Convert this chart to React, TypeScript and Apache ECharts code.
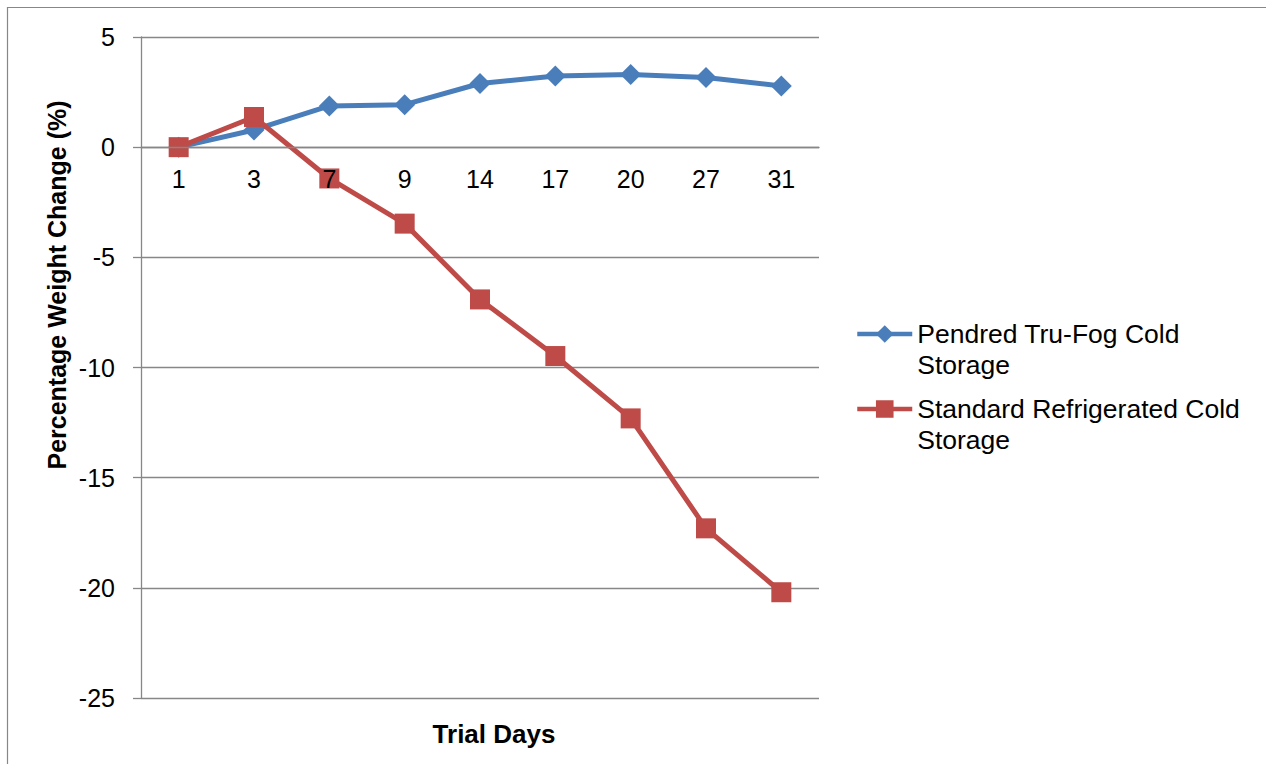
import React, { useEffect, useRef } from "react";
import * as echarts from "echarts";

const categories = ["1", "3", "7", "9", "14", "17", "20", "27", "31"];
const truFog = [0, 0.78, 1.87, 1.93, 2.89, 3.23, 3.3, 3.16, 2.78];
const standard = [0, 1.37, -1.42, -3.47, -6.91, -9.48, -12.31, -17.3, -20.2];
const seriesNames = ["Pendred Tru-Fog Cold Storage", "Standard Refrigerated Cold Storage"];
const legendLabels: Record<string, string> = {
  "Pendred Tru-Fog Cold Storage": " \nPendred Tru-Fog Cold\nStorage",
  "Standard Refrigerated Cold Storage": " \nStandard Refrigerated Cold\nStorage",
};

const FONT = "'Liberation Sans', Arial, sans-serif";
const GRAY = "#878787";
const BLUE = "#4A7EBB";
const RED = "#BE4B48";

export default function App() {
  const ref = useRef<HTMLDivElement>(null);
  useEffect(() => {
    if (!ref.current) return;
    const chart = echarts.init(ref.current, null, { renderer: "svg" });
    const legendText = {
      color: "#000",
      fontFamily: FONT,
      fontSize: 26.5,
      lineHeight: 31,
    };
    const legendBase = {
      orient: "vertical",
      left: 850,
      itemWidth: 55,
      itemHeight: 22,
      itemGap: 0,
      formatter: (n: string) => legendLabels[n],
      textStyle: legendText,
      lineStyle: { width: 4.5 },
      selectedMode: false,
    };
    chart.setOption({
      animation: false,
      backgroundColor: "#fff",
      textStyle: { fontFamily: FONT },
      grid: { left: 141, right: 447, top: 37, bottom: 66, containLabel: false },
      legend: [
        { ...legendBase, data: [seriesNames[0]], top: 282.5 },
        { ...legendBase, data: [seriesNames[1]], top: 357.5 },
      ],
      xAxis: {
        type: "category",
        data: categories,
        boundaryGap: true,
        offset: -551,
        z: 10,
        axisLine: { onZero: false, lineStyle: { color: GRAY, width: 1.3 } },
        axisTick: { show: false },
        axisLabel: { color: "#000", fontSize: 25, fontFamily: FONT, margin: 19, interval: 0 },
        splitLine: { show: false },
      },
      yAxis: {
        type: "value",
        min: -25,
        max: 5,
        interval: 5,
        axisLine: { show: true, lineStyle: { color: GRAY, width: 1.3 } },
        axisTick: { show: true, length: 8, lineStyle: { color: GRAY, width: 1.3 } },
        axisLabel: { color: "#000", fontSize: 25, fontFamily: FONT, margin: 26 },
        splitLine: { show: true, lineStyle: { color: GRAY, width: 1.3 } },
      },
      graphic: [
        {
          type: "rect",
          shape: { x: 7.5, y: 7.5, width: 1300, height: 800 },
          style: { fill: "none", stroke: GRAY, lineWidth: 1.2 },
          silent: true,
          z: -1,
        },
        {
          type: "text",
          x: 57,
          y: 285,
          rotation: Math.PI / 2,
          style: {
            text: "Percentage Weight Change (%)",
            font: `bold 25px ${FONT}`,
            fill: "#000",
            align: "center",
            verticalAlign: "middle",
          },
        },
        {
          type: "text",
          x: 494,
          y: 734,
          style: {
            text: "Trial Days",
            font: `bold 26px ${FONT}`,
            fill: "#000",
            align: "center",
            verticalAlign: "middle",
          },
        },
      ],
      series: [
        {
          name: seriesNames[0],
          type: "line",
          data: truFog,
          symbol: "diamond",
          symbolSize: 21,
          lineStyle: { color: BLUE, width: 5 },
          itemStyle: { color: BLUE },
          z: 2,
        },
        {
          name: seriesNames[1],
          type: "line",
          data: standard,
          symbol: "rect",
          symbolSize: 20,
          lineStyle: { color: RED, width: 5 },
          itemStyle: { color: RED },
          z: 3,
        },
      ],
    });
    return () => chart.dispose();
  }, []);
  return (
    <div
      ref={ref}
      style={{ position: "absolute", left: 0, top: 0, width: 1266, height: 764 }}
    />
  );
}
